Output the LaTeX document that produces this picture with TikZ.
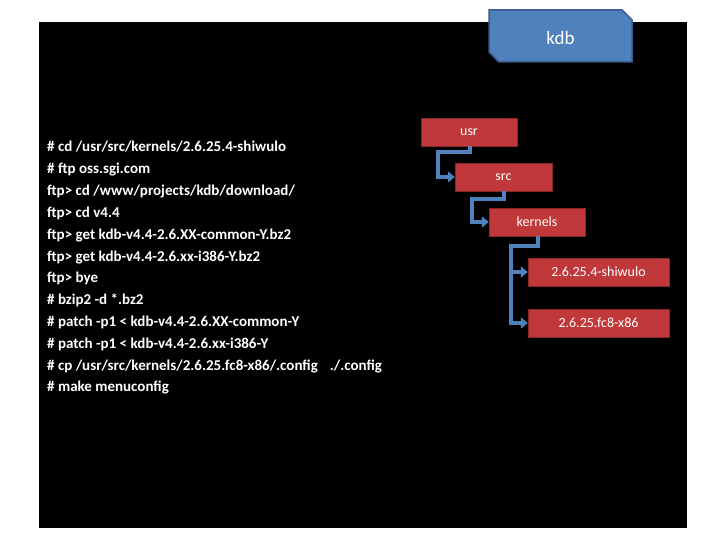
\documentclass[tikz,border=0pt]{standalone}
\usepackage{fontspec}
\setmainfont{Carlito}
\usetikzlibrary{shapes.geometric,arrows.meta}
\definecolor{redbox}{HTML}{C0383A}
\definecolor{bluebox}{HTML}{4F81BD}
\definecolor{blueedge}{HTML}{385D8A}
\begin{document}
\begin{tikzpicture}[x=1pt,y=-1pt,
  dirbox/.style={draw=redbox!70!black,fill=redbox,text=white,minimum height=28pt,inner sep=0pt,font=\fontsize{14}{14}\selectfont},
  link/.style={draw=bluebox,line width=4pt,-{Triangle[length=7pt,width=11pt]}},
  cmd/.style={text=white,anchor=base west,inner sep=0pt,font=\bfseries\fontsize{15}{15}\selectfont}]
\useasboundingbox (0,0) rectangle (720,540);
\fill[white] (0,0) rectangle (720,540);
\fill[black] (39,22) rectangle (687,528);
% kdb box with snipped corners
\draw[fill=bluebox,draw=blueedge,line width=1.5pt] (489,10) -- (622,10) -- (632,20) -- (632,62) -- (499,62) -- (489,52) -- cycle;
\node[text=white,font=\fontsize{19}{19}\selectfont] (kdb) at (560.5,38) {kdb};
\node[dirbox,minimum width=96pt] (usr) at (469,132) {usr};
\node[dirbox,minimum width=97pt] (src) at (503.5,177) {src};
\node[dirbox,minimum width=96pt] (ker) at (537,222) {kernels};
\node[dirbox,minimum width=141pt] (shi) at (598.5,272) {2.6.25.4-shiwulo};
\node[dirbox,minimum width=141pt] (fc) at (598.5,323) {2.6.25.fc8-x86};
\draw[link] (usr.south) ++(1,0) coordinate (u1) |- (438,152) |- (src.west);
\draw[link] (src.south) ++(0,0) coordinate (s1) |- (472,199) |- (ker.west);
\draw[link] (ker.south) ++(1,0) coordinate (k1) |- (511,246) |- (shi.west);
\draw[link] (511,270) |- (fc.west);
\foreach \t [count=\i from 0] in {
 {\# cd /usr/src/kernels/2.6.25.4-shiwulo},
 {\# ftp oss.sgi.com},
 {ftp> cd /www/projects/kdb/download/},
 {ftp> cd v4.4},
 {ftp> get kdb-v4.4-2.6.XX-common-Y.bz2},
 {ftp> get kdb-v4.4-2.6.xx-i386-Y.bz2},
 {ftp> bye},
 {\# bzip2 -d *.bz2},
 {\# patch -p1 < kdb-v4.4-2.6.XX-common-Y},
 {\# patch -p1 < kdb-v4.4-2.6.xx-i386-Y},
 {\# cp /usr/src/kernels/2.6.25.fc8-x86/.config\hspace{12pt}./.config},
 {\# make menuconfig}}
 \node[cmd] (c\i) at (47,{152+\i*21.8}) {\t};
\end{tikzpicture}
\end{document}
